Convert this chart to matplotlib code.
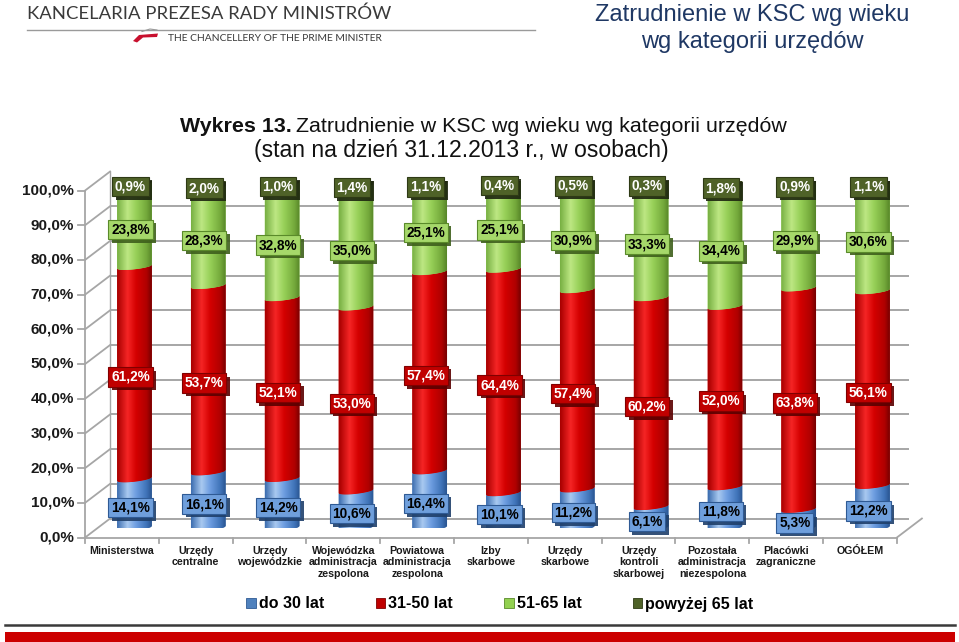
import numpy as np
import matplotlib
matplotlib.use("Agg")
import matplotlib.pyplot as plt
from matplotlib.patches import PathPatch, Patch, Polygon, Rectangle
from matplotlib.path import Path
from matplotlib.lines import Line2D
from matplotlib.transforms import ScaledTranslation
from matplotlib.colors import to_rgb
import matplotlib.patheffects as pe

# ---------------- data ----------------
categories = ["Ministerstwa", "Urzędy\ncentralne", "Urzędy\nwojewódzkie",
              "Wojewódzka\nadministracja\nzespolona", "Powiatowa\nadministracja\nzespolona",
              "Izby\nskarbowe", "Urzędy\nskarbowe", "Urzędy\nkontroli\nskarbowej",
              "Pozostała\nadministracja\nniezespolona", "Placówki\nzagraniczne", "OGÓŁEM"]
do_30 = [14.1, 16.1, 14.2, 10.6, 16.4, 10.1, 11.2, 6.1, 11.8, 5.3, 12.2]
od_31_do_50 = [61.2, 53.7, 52.1, 53.0, 57.4, 64.4, 57.4, 60.2, 52.0, 63.8, 56.1]
od_51_do_65 = [23.8, 28.3, 32.8, 35.0, 25.1, 25.1, 30.9, 33.3, 34.4, 29.9, 30.6]
powyzej_65 = [0.9, 2.0, 1.0, 1.4, 1.1, 0.4, 0.5, 0.3, 1.8, 0.9, 1.1]
series_names = ["do 30 lat", "31-50 lat", "51-65 lat", "powyżej 65 lat"]
y_ticks = [0, 10, 20, 30, 40, 50, 60, 70, 80, 90, 100]

plt.rcParams["font.family"] = ["Liberation Sans", "DejaVu Sans"]

W, H = 959, 642
fig = plt.figure(figsize=(W / 100, H / 100), dpi=100)
fig.patch.set_facecolor("white")
PX = 1 / 100.0

# main axes = middle (bar) plane of the pseudo-3D chart
ax = fig.add_axes([97.6 / W, (H - 528) / H, 811.8 / W, 347 / H])
ax.set_xlim(-0.5, 10.5)
ax.set_ylim(0, 100)
ax.set_autoscale_on(False)
ax.axis("off")

front = ax.transData + ScaledTranslation(-12.5 * PX, -9.5 * PX, fig.dpi_scale_trans)
back = ax.transData + ScaledTranslation(12.5 * PX, 9.5 * PX, fig.dpi_scale_trans)
labt = ax.transData + ScaledTranslation(-4 * PX, -4 * PX, fig.dpi_scale_trans)
inv = fig.transFigure.inverted()


def fig_pt(trans, x, y, dx=0.0, dy=0.0):
    p = trans.transform((x, y))
    return inv.transform((p[0] + dx, p[1] + dy))


def fig_line(p0, p1, color="#a6a6a6", lw=1.3, z=0):
    fig.add_artist(Line2D([p0[0], p1[0]], [p0[1], p1[1]], color=color, lw=lw, zorder=z))


GRID = "#a6a6a6"
x0, x1 = -0.5, 10.5
# back wall gridlines + left side wall diagonals
for v in y_ticks:
    ax.plot([x0, x1], [v, v], color=GRID, lw=1.4, transform=back, zorder=0, solid_capstyle="butt")
    fig_line(fig_pt(front, x0, v), fig_pt(back, x0, v), GRID, 1.3)
# back-left vertical edge, front vertical axis
fig_line(fig_pt(back, x0, 0), fig_pt(back, x0, 100), GRID, 1.0)
fig_line(fig_pt(front, x0, 0), fig_pt(front, x0, 100), GRID, 1.3)
# floor
fig_line(fig_pt(front, x0, 0), fig_pt(front, x1, 0), GRID, 1.3)
fig_line(fig_pt(front, x1, 0), fig_pt(back, x1, 0), GRID, 1.3)

# y ticks and labels
for v in y_ticks:
    fig_line(fig_pt(front, x0, v), fig_pt(front, x0, v, dx=-7), GRID, 1.3)
    lab = f"{v:.1f}%".replace(".", ",")
    p = fig_pt(front, x0, v, dx=-11)
    fig.text(p[0], p[1], lab, ha="right", va="center", fontsize=11, fontweight="bold", color="#1a1a1a")

# x ticks and category labels
for k in range(len(categories) + 1):
    xx = -0.5 + k
    fig_line(fig_pt(front, xx, 0), fig_pt(front, xx, 0, dy=-5), GRID, 1.3)
for i, c in enumerate(categories):
    p = fig_pt(front, i, 0, dy=-8)
    fig.text(p[0], p[1], c, ha="center", va="top", fontsize=7.7, fontweight="bold",
             color="#1a1a1a", linespacing=1.2)

# ---------------- bars ----------------
stops = [
    [(0, "#3d6eb0"), (0.3, "#a9c9f0"), (0.55, "#6d9de0"), (0.85, "#3f73b8"), (1, "#2a5590")],
    [(0, "#a80000"), (0.3, "#f52525"), (0.55, "#d40000"), (0.85, "#b00000"), (1, "#780000")],
    [(0, "#78b043"), (0.3, "#bde783"), (0.55, "#97d058"), (0.85, "#74a93b"), (1, "#578628")],
    [(0, "#3f4f1f"), (0.3, "#6e8540"), (0.6, "#4f6228"), (1, "#333f17")],
]
base_cols = ["#4f81bd", "#c00000", "#92d050", "#4f6228"]
lab_face = ["#6f9fdc", "#c00000", "#a6d86a", "#4f6228"]
lab_edge = ["#2f5a94", "#800000", "#5a8a2a", "#2e3a15"]
lab_txt = ["#000000", "#ffffff", "#000000", "#ffffff"]
shadow = ["#1f3f6a", "#5a0000", "#3e5f1c", "#1e2610"]


def grad_img(st, n=64):
    pos = [p for p, _ in st]
    cols = [to_rgb(c) for _, c in st]
    t = np.linspace(0, 1, n)
    arr = np.stack([np.interp(t, pos, [c[k] for c in cols]) for k in range(3)], axis=-1)
    return arr[None, :, :]


BW = 0.47
A_ELL = 0.75   # vertical semi-axis of ellipse, data units (%)
B_SL = 0.55    # perspective slope of ellipse
tt = np.linspace(-1, 1, 40)


def arc(i, y, upper=False):
    xs = i + BW / 2 * tt
    sgn = 1 if upper else -1
    ys = y + sgn * A_ELL * np.sqrt(1 - tt ** 2) + B_SL * tt
    return xs, ys


series = [do_30, od_31_do_50, od_51_do_65, powyzej_65]
n = len(categories)
bottoms = np.zeros(n)
for s, vals in enumerate(series):
    img = grad_img(stops[s])
    for i in range(n):
        y0 = bottoms[i]
        y1 = y0 + vals[i]
        bx, by = arc(i, y0)
        tx, ty = arc(i, y1)
        verts = np.concatenate([np.column_stack([bx, by]), np.column_stack([tx[::-1], ty[::-1]])])
        patch = PathPatch(Path(np.vstack([verts, verts[:1]]), closed=True),
                          facecolor=base_cols[s], edgecolor="none", zorder=2)
        ax.add_patch(patch)
        im = ax.imshow(img, extent=[i - BW / 2, i + BW / 2, y0 - 2, y1 + 2], aspect="auto",
                       interpolation="bilinear", zorder=3)
        im.set_clip_path(patch)
        if s == len(series) - 1:
            ux, uy = arc(i, y1, upper=True)
            cap = np.concatenate([np.column_stack([tx, ty]), np.column_stack([ux[::-1], uy[::-1]])])
            ax.add_patch(Polygon(cap, closed=True, facecolor="#62783a", edgecolor="none", zorder=4))
        # data label
        t = ax.text(i, y0 + vals[i] / 2, f"{vals[i]:.1f}%".replace(".", ","), transform=labt,
                    ha="center", va="center", fontsize=9.8, fontweight="bold", color=lab_txt[s],
                    zorder=10,
                    bbox=dict(boxstyle="square,pad=0.2", facecolor=lab_face[s],
                              edgecolor=lab_edge[s], linewidth=0.8))
        t.get_bbox_patch().set_path_effects([
            pe.SimplePatchShadow(offset=(2.5, -2.5), shadow_rgbFace=shadow[s], alpha=0.9),
            pe.Normal()])
    bottoms = bottoms + np.array(vals)

# ---------------- legend ----------------
handles = [Patch(facecolor=base_cols[s], edgecolor=lab_edge[s], linewidth=0.6) for s in range(4)]
fig.legend(handles, series_names, loc="center", bbox_to_anchor=(500 / W, (H - 604) / H),
           ncol=4, frameon=False, prop=dict(size=11.5, weight="bold"),
           handlelength=0.6, handleheight=0.6, handletextpad=0.2, columnspacing=3.2)

# ---------------- titles / header ----------------
fig.text(752 / W, 1 - 15 / H, "Zatrudnienie w KSC wg wieku", ha="center", va="center",
         fontsize=17, color="#1f3864")
fig.text(752 / W, 1 - 42 / H, "wg kategorii urzędów", ha="center", va="center",
         fontsize=17, color="#1f3864")

fig.text(27 / W, 1 - 14 / H, "KANCELARIA PREZESA RADY MINISTRÓW", ha="left", va="center",
         fontsize=13.3, color="#3a3a3a", family=["Lato", "DejaVu Sans"])
fig.text(168 / W, 1 - 38.5 / H, "THE CHANCELLERY OF THE PRIME MINISTER", ha="left", va="center",
         fontsize=7.4, color="#3a3a3a", family=["Lato", "DejaVu Sans"])
fig.add_artist(Line2D([27 / W, 535 / W], [1 - 30 / H, 1 - 30 / H], color="#9a9a9a", lw=1.0))
flag = [(133, 41), (139, 35), (158, 33.5), (157, 37), (143, 37.5), (137, 42.5)]
fig.add_artist(Polygon([(x / W, 1 - y / H) for x, y in flag], closed=True,
                       facecolor="#c8102e", edgecolor="none"))
fig.add_artist(Line2D([142 / W, 150 / W, 157 / W], [1 - 31.5 / H, 1 - 29 / H, 1 - 30 / H],
                      color="#9a9a9a", lw=0.8))

# chart title: bold part + normal part
tfam = ["Liberation Sans Narrow", "Liberation Sans", "DejaVu Sans"]
renderer = fig.canvas.get_renderer()
t1 = fig.text(180 / W, 1 - 127 / H, "Wykres 13.", ha="left", va="center", fontsize=15.4,
              fontweight="bold", family=tfam, color="#111111")
bb = t1.get_window_extent(renderer)
fig.text((bb.x1 + 4) / W, 1 - 127 / H, "Zatrudnienie w KSC wg wieku wg kategorii urzędów",
         ha="left", va="center", fontsize=15.4, family=tfam, color="#111111")
fig.text(461 / W, 1 - 151 / H, "(stan na dzień 31.12.2013 r., w osobach)", ha="center",
         va="center", fontsize=16.6, family=tfam, color="#111111")

# bottom lines
fig.add_artist(Line2D([5 / W, 955 / W], [1 - 625 / H, 1 - 625 / H], color="#3a3a3a", lw=1.8))
fig.add_artist(Rectangle((5 / W, 0), 950 / W, 10 / H, facecolor="#cc0000", edgecolor="none"))

fig.savefig("out.png", dpi=100)
